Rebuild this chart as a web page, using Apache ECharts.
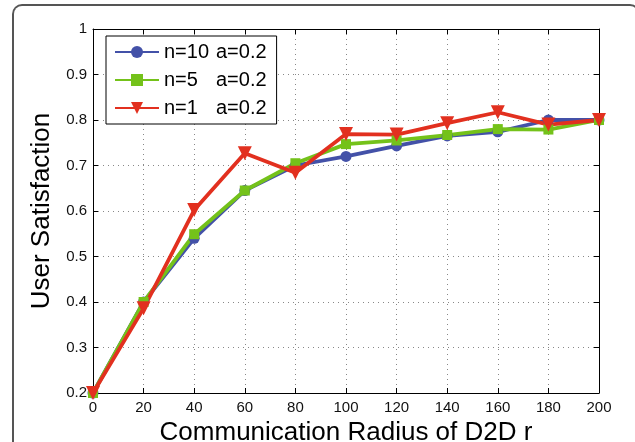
<!DOCTYPE html>
<html>
<head>
<meta charset="utf-8">
<script src="https://cdn.jsdelivr.net/npm/echarts@6/dist/echarts.min.js"></script>
<style>
html,body{margin:0;padding:0;background:#fff;overflow:hidden;}
#frame{position:absolute;left:12px;top:4px;width:628px;height:480px;border-top:2px solid #555;border-left:2px solid #555;border-right:2px solid #555;border-top-left-radius:10px;border-top-right-radius:10px;box-sizing:border-box;}
#chart{position:absolute;left:0;top:0;width:635px;height:442px;}
</style>
</head>
<body>
<div id="frame"></div>
<div id="chart"></div>
<script>
const radius = [0, 20, 40, 60, 80, 100, 120, 140, 160, 180, 200];
const n10 = [0.20, 0.40, 0.540, 0.645, 0.700, 0.720, 0.743, 0.765, 0.774, 0.800, 0.800];
const n5  = [0.20, 0.40, 0.549, 0.645, 0.705, 0.747, 0.755, 0.767, 0.780, 0.779, 0.800];
const n1  = [0.20, 0.386, 0.602, 0.727, 0.684, 0.769, 0.768, 0.793, 0.817, 0.790, 0.800];
const seriesNames = ['n=10 a=0.2', 'n=5 a=0.2', 'n=1 a=0.2'];
const xTitle = 'Communication Radius of D2D r';
const yTitle = 'User Satisfaction';

const font = 'Liberation Sans, Arial, Helvetica, sans-serif';
const pairs = v => radius.map((r, i) => [r, v[i]]);
const grid = {left: 93, right: 36, top: 29, bottom: 49, containLabel: false, outerBoundsMode: 'none'};
const dotted = {show: true, lineStyle: {color: '#888', type: [1, 4], width: 1}};

function mkSeries(name, data, color, symbol, size, rotate) {
  return {
    name, type: 'line', data: pairs(data), xAxisIndex: 0, yAxisIndex: 0,
    symbol, symbolSize: size, symbolRotate: rotate || 0, showSymbol: true,
    lineStyle: {color, width: 3.8}, itemStyle: {color, borderWidth: 0},
    emphasis: {disabled: true}, animation: false, z: 3
  };
}

const chart = echarts.init(document.getElementById('chart'), null, {renderer: 'canvas'});
chart.setOption({
  backgroundColor: 'transparent',
  animation: false,
  grid,
  legend: {
    left: 106, top: 36, orient: 'vertical',
    backgroundColor: '#fff', borderColor: '#000', borderWidth: 1,
    padding: [6, 10, 6, 8], itemGap: 8, itemWidth: 44, itemHeight: 15,
    data: seriesNames,
    formatter: function (name) {
      const p = name.split(' ');
      return '{n|' + p[0] + '}{a|' + p[1] + '}';
    },
    textStyle: {
      fontFamily: font, fontSize: 20, color: '#000',
      rich: {
        n: {fontFamily: font, fontSize: 20, color: '#000', width: 52},
        a: {fontFamily: font, fontSize: 20, color: '#000'}
      }
    }
  },
  xAxis: [{
    type: 'value', min: 0, max: 200, interval: 20,
    name: xTitle, nameLocation: 'middle', nameGap: 20,
    nameTextStyle: {fontFamily: font, fontSize: 26, color: '#000'},
    axisLine: {show: true, onZero: false, lineStyle: {color: '#000', width: 1}},
    axisTick: {show: true, inside: true, length: 5, lineStyle: {color: '#000'}},
    axisLabel: {fontFamily: font, fontSize: 15, color: '#111', margin: 7},
    splitLine: dotted
  }, {
    type: 'value', min: 0, max: 200, interval: 20, position: 'top',
    axisLine: {show: true, onZero: false, lineStyle: {color: '#000', width: 1}},
    axisTick: {show: true, inside: true, length: 5, lineStyle: {color: '#000'}},
    axisLabel: {show: false}, splitLine: {show: false}
  }],
  yAxis: [{
    type: 'value', min: 0.2, max: 1, interval: 0.1,
    name: yTitle, nameLocation: 'middle', nameGap: 38, nameRotate: 90,
    nameTextStyle: {fontFamily: font, fontSize: 26, color: '#000'},
    axisLine: {show: true, onZero: false, lineStyle: {color: '#000', width: 1}},
    axisTick: {show: true, inside: true, length: 5, lineStyle: {color: '#000'}},
    axisLabel: {fontFamily: font, fontSize: 15, color: '#111', margin: 6,
      formatter: v => (Math.abs(v - 1) < 1e-9 ? '1' : v.toFixed(1))},
    splitLine: dotted
  }, {
    type: 'value', min: 0.2, max: 1, interval: 0.1, position: 'right',
    axisLine: {show: true, onZero: false, lineStyle: {color: '#000', width: 1}},
    axisTick: {show: true, inside: true, length: 5, lineStyle: {color: '#000'}},
    axisLabel: {show: false}, splitLine: {show: false}
  }],
  series: [
    mkSeries(seriesNames[0], n10, '#4351a8', 'circle', 11),
    mkSeries(seriesNames[1], n5, '#74c21a', 'rect', 10),
    mkSeries(seriesNames[2], n1, '#e2301f', 'triangle', 14, 180)
  ]
});
</script>
</body>
</html>
